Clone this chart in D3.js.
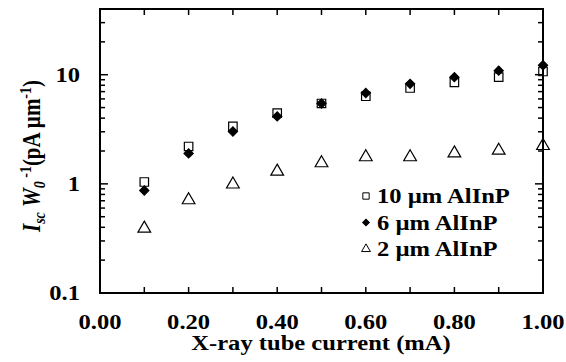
<!DOCTYPE html>
<html><head><meta charset="utf-8">
<script src="https://cdn.jsdelivr.net/npm/d3@7"></script>
<style>body{margin:0;background:#fff}svg{display:block}
text{font-family:"Liberation Serif","Times New Roman","DejaVu Serif",serif;font-weight:bold}</style>
</head><body>
<svg id="c" width="566" height="362"></svg>
<script>
const current = [0.1,0.2,0.3,0.4,0.5,0.6,0.7,0.8,0.9,1.0];
const al10 = [1.04,2.2,3.36,4.45,5.45,6.35,7.55,8.5,9.5,10.7];
const al6  = [0.87,1.9,3.02,4.15,5.45,6.8,8.25,9.5,10.9,12.2];
const al2  = [0.39,0.71,0.99,1.30,1.55,1.76,1.76,1.91,2.02,2.23];
const seriesNames = ["10 µm AlInP","6 µm AlInP","2 µm AlInP"];
const xTicks = [0,0.2,0.4,0.6,0.8,1.0];
const yTicks = [0.1,1,10];

const svg = d3.select("#c");
const L=100,R=543,T=9,B=293;
const SX=1.17;
const x = d3.scaleLinear().domain([0,1]).range([L,R]);
const y = d3.scaleLog().domain([0.1,40]).range([B,T]);

svg.append("rect").attr("x",L).attr("y",T).attr("width",R-L).attr("height",B-T)
  .attr("fill","none").attr("stroke","#000").attr("stroke-width",2);

const xt = d3.range(1,10).map(i=>i/10);
const g = svg.append("g").attr("stroke","#000").attr("stroke-width",1.5);
xt.forEach(v=>{
  g.append("line").attr("x1",x(v)).attr("x2",x(v)).attr("y1",B).attr("y2",B-6);
  g.append("line").attr("x1",x(v)).attr("x2",x(v)).attr("y1",T).attr("y2",T+6);
});
const minor=[];
[0.1,1,10].forEach(d=>{for(let k=2;k<=9;k++){const v=d*k; if(v<=40) minor.push(v);}});
minor.forEach(v=>{
  g.append("line").attr("x1",L).attr("x2",L+5).attr("y1",y(v)).attr("y2",y(v));
  g.append("line").attr("x1",R).attr("x2",R-5).attr("y1",y(v)).attr("y2",y(v));
});
yTicks.forEach(v=>{
  g.append("line").attr("x1",L).attr("x2",L+8).attr("y1",y(v)).attr("y2",y(v));
  g.append("line").attr("x1",R).attr("x2",R-8).attr("y1",y(v)).attr("y2",y(v));
});

function label(px, py, txt, anchor, dy){
  return svg.append("g").attr("transform",`translate(${px},${py}) scale(${SX},1)`)
    .append("text").attr("text-anchor",anchor).attr("dy",dy||0).attr("font-size",21).text(txt);
}
xTicks.forEach(d=>label(x(d),329,d.toFixed(2),"middle"));
yTicks.forEach(d=>label(80,y(d),String(d),"end","0.35em"));
label(321,350,"X-ray tube current (mA)","middle");

const yt = svg.append("text").attr("transform",`translate(40,156) rotate(-90) scale(1,${SX})`)
  .attr("text-anchor","middle").attr("font-size",21);
yt.append("tspan").attr("font-style","italic").text("I");
yt.append("tspan").attr("font-style","italic").attr("font-size",14).attr("dy",4).text("sc");
yt.append("tspan").attr("dy",-4).text(" ");
yt.append("tspan").attr("font-style","italic").text("W");
yt.append("tspan").attr("font-style","italic").attr("font-size",14).attr("dy",4).text("0");
yt.append("tspan").attr("font-size",14).attr("dy",-12).text(" -1");
yt.append("tspan").attr("dy",8).text("(pA µm");
yt.append("tspan").attr("font-size",14).attr("dy",-8).text("-1");
yt.append("tspan").attr("dy",8).text(")");

const sq = d3.symbol().type(d3.symbolSquare).size(72);
const di = d3.symbol().type(d3.symbolSquare).size(42);
const tr = d3.symbol().type(d3.symbolTriangle).size(70);
function plot(vals, sym, fill, rot){
  svg.append("g").selectAll("path").data(vals).join("path")
    .attr("transform",(d,i)=>`translate(${x(current[i])},${y(d)}) rotate(${rot||0})`)
    .attr("d",sym).attr("fill",fill).attr("stroke","#000").attr("stroke-width",1.2);
}
plot(al2, tr, "none");
plot(al10, sq, "none");
plot(al6, di, "#000", 45);

const lg = svg.append("g");
const syms=[d3.symbol().type(d3.symbolSquare).size(40),d3.symbol().type(d3.symbolSquare).size(22),d3.symbol().type(d3.symbolTriangle).size(34)];
const fills=["none","#000","none"];
seriesNames.forEach((n,i)=>{
  const yy=196+i*26.5;
  lg.append("path").attr("transform",`translate(366,${yy}) rotate(${i===1?45:0})`).attr("d",syms[i]())
    .attr("fill",fills[i]).attr("stroke","#000").attr("stroke-width",1);
  label(377,yy,n,"start","0.35em");
});
</script>
</body></html>
